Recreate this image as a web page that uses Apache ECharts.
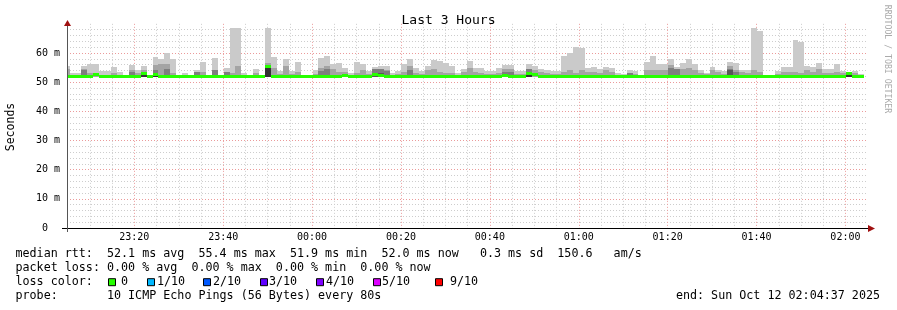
<!DOCTYPE html>
<html><head><meta charset="utf-8">
<script src="https://cdn.jsdelivr.net/npm/echarts@6/dist/echarts.min.js"></script>
<style>html,body{margin:0;padding:0;background:#fff}#c{width:897px;height:310px}</style>
</head><body><div id="c"></div>
<script>
// ---------- DATA (x values are minutes after 23:00 on Oct 11) ----------
const viewStart = 4.856;        // 23:04:51
const viewEnd = 184.856;        // 3 hours later
const firstColumnStart = 4.1;   // start of first rrd step shown
const stepMinutes = 80 / 60;    // 80 s step

const labelMinutes = [20, 40, 60, 80, 100, 120, 140, 160, 180];
const labelText = ['23:20', '23:40', '00:00', '00:20', '00:40', '01:00', '01:20', '01:40', '02:00'];
const minorMinutes = [5, 10, 15, 25, 30, 35, 45, 50, 55, 65, 70, 75, 85, 90, 95, 105, 110, 115, 125, 130, 135, 145, 150, 155, 165, 170, 175];
const yTicks = [0, 10, 20, 30, 40, 50, 60];
const yTickLabels = ['0  ', '10 m', '20 m', '30 m', '40 m', '50 m', '60 m'];

// highest ping per step (ms)
const ping10 = [55.6,53.2,53.2,55.6,56.2,56.2,53.8,53.8,55.2,53.5,
52.5,55.8,54.0,55.5,52.3,58.6,57.8,59.9,57.8,52.4,
53.2,52.4,54.2,56.9,52.4,58.2,52.4,54.8,68.6,68.6,
53.2,52.4,54.4,52.4,68.6,58.6,53.7,57.9,53.7,56.9,
52.4,52.4,54.2,58.4,59.0,56.2,56.6,54.8,53.2,56.9,
56.2,53.9,55.3,55.5,55.5,53.0,53.9,56.2,57.8,54.8,
53.7,55.6,57.6,57.3,56.6,55.6,53.0,54.6,57.3,54.9,
54.9,53.7,53.9,54.8,56.0,56.0,53.7,53.8,56.2,55.5,
54.6,54.2,53.7,53.9,58.9,59.9,61.9,61.7,54.8,55.3,
54.6,55.1,54.8,53.3,52.8,54.2,53.7,52.6,56.9,59.0,
56.1,56.2,57.9,55.2,56.7,57.9,56.1,54.2,53.3,55.3,
54.2,53.7,56.8,56.5,54.2,54.2,68.6,67.7,52.5,52.5,
53.8,55.2,55.2,64.5,63.7,55.5,55.3,56.5,54.6,54.6,
56.1,53.8,53.3,53.8,52.8];
// 2nd highest ping per step (ms)
const ping9 = [54.4,52.6,52.6,54.4,53.0,53.0,52.6,52.6,53.2,52.6,
52.3,54.0,53.2,54.2,52.2,55.8,56.2,56.3,53.0,52.3,
52.6,52.3,53.5,53.6,52.3,54.0,52.3,53.6,53.2,55.7,
52.6,52.3,53.0,52.3,56.5,55.0,52.8,55.7,52.8,53.5,
52.3,52.3,52.8,55.0,55.7,54.5,53.5,53.5,52.6,53.2,
54.0,52.8,54.4,54.6,54.2,52.5,52.8,53.5,55.5,53.3,
52.8,54.0,54.5,53.5,53.2,53.0,52.5,53.5,54.9,53.5,
53.3,52.8,52.8,53.2,54.5,54.5,52.8,52.8,54.6,54.0,
53.5,53.0,52.8,52.8,53.5,54.2,53.0,54.0,53.5,53.5,
53.0,54.0,53.5,52.6,52.4,53.3,52.8,52.3,54.0,54.0,
54.0,54.0,56.0,54.5,54.5,55.0,54.0,53.3,52.8,54.0,
53.5,52.8,55.5,54.2,53.5,53.0,54.0,53.5,52.3,52.3,
52.8,53.5,53.5,53.5,53.3,54.0,53.5,54.5,53.3,53.3,
53.5,53.0,52.8,53.0,52.5];
// inner pings that rise visibly above the median (column index -> ms)
const ping8 = {3:54.0, 11:53.5, 13:53.5, 15:54.2, 17:54.5, 22:53.5, 25:54.0, 27:53.5, 34:56.0, 43:53.8, 44:54.4,
  52:54.4, 53:54.4, 54:53.8, 58:54.0, 74:53.5, 75:53.5, 78:54.6, 95:53.3, 102:55.0, 103:54.5, 112:54.5, 113:53.5};
const ping7 = {13:53.0, 15:53.2, 34:55.8, 52:53.3, 53:53.3, 78:53.5, 112:54.0, 132:53.0};
const ping6 = {13:52.9, 15:52.6, 34:55.3, 53:52.8, 78:53.2, 132:52.8};
// lowest ping per step (ms)
const ping1 = [51.7,51.7,51.7,51.7,51.7,51.7,51.7,51.7,51.7,51.7,
51.7,51.7,51.7,51.7,51.7,51.7,51.7,51.7,51.7,51.7,
51.7,51.7,51.7,51.7,51.7,51.7,51.7,51.7,51.7,51.7,
51.7,51.7,51.7,51.7,51.8,51.7,51.7,51.7,51.7,51.7,
51.7,51.7,51.7,51.7,51.7,51.7,51.7,51.7,51.7,51.7,
51.7,51.7,51.7,51.7,51.7,51.7,51.7,51.7,51.7,51.7,
51.7,51.7,51.7,51.7,51.7,51.7,51.7,51.7,51.7,51.7,
51.7,51.7,51.7,51.7,51.7,51.7,51.7,51.7,51.7,51.7,
51.7,51.7,51.7,51.7,51.7,51.7,51.7,51.7,51.7,51.7,
51.7,51.7,51.7,51.7,51.7,51.7,51.7,51.7,51.7,51.7,
51.7,51.7,51.7,51.7,51.7,51.7,51.7,51.7,51.7,51.7,
51.7,51.7,51.7,51.7,51.7,51.7,51.7,51.7,51.7,51.7,
51.7,51.7,51.7,51.7,51.7,51.7,51.7,51.7,51.7,51.7,
51.7,51.7,51.7,51.7,51.7];
// median rtt per step (ms)
const median = [52.1,51.9,51.9,52.1,52.1,52.5,52.1,51.9,52.1,52.1,
52.1,52.1,52.1,52.9,51.9,52.6,52.1,52.1,51.9,52.1,
52.1,52.1,52.1,52.1,51.9,52.1,51.9,52.1,52.1,52.1,
52.1,51.9,52.1,52.1,55.4,52.1,52.1,51.9,52.1,51.9,
51.9,52.1,52.1,52.1,52.1,52.1,51.9,52.3,52.1,52.1,
51.9,52.1,52.7,52.4,52.1,52.1,52.1,51.9,51.9,51.9,
52.1,52.1,52.1,52.1,52.1,52.1,52.1,52.1,52.1,52.1,
52.1,52.1,52.1,52.1,52.3,52.1,51.9,52.1,53.0,52.5,
52.1,52.1,51.9,51.9,51.9,52.1,52.1,52.1,52.1,51.9,
51.9,52.1,52.1,52.1,51.9,52.1,52.1,52.1,52.1,52.1,
52.1,52.1,52.1,52.1,51.9,52.1,52.1,52.1,51.9,52.1,
52.1,52.1,52.1,51.9,51.9,51.9,52.1,51.9,51.9,51.9,
52.1,52.1,52.1,52.1,52.1,52.1,52.1,52.1,52.1,51.9,
51.9,51.9,52.8,52.1,52.0];

const lossLabels = ['0', '1/10', '2/10', '3/10', '4/10', '5/10', '9/10'];
const lossColors = ['#26ff00', '#00b8ff', '#0059ff', '#5e00ff', '#7e00ff', '#dd00ff', '#ff0000'];
const legendLines = [
  'median rtt:  52.1 ms avg  55.4 ms max  51.9 ms min  52.0 ms now   0.3 ms sd  150.6   am/s',
  'packet loss: 0.00 % avg  0.00 % max  0.00 % min  0.00 % now',
  'loss color:',
  'probe:       10 ICMP Echo Pings (56 Bytes) every 80s'
];
const endText = 'end: Sun Oct 12 02:04:37 2025';

// ---------- LAYOUT ----------
const MONO = "'DejaVu Sans Mono', monospace";
const G = {left: 67, top: 23.83, width: 800, height: 204.17};
const lossBoxX = [108, 147, 203, 260, 316, 373, 435];
const lossTextX = [121, 157, 213, 269, 326, 382, 450];
const legendY = [254.3, 268.3, 282.2, 296.2];

const smokeColors = ['#cacaca', '#a4a4a4', '#7e7e7e', '#585858', '#323232'];
const columns = ping10.map((v, k) => [firstColumnStart + k * stepMinutes, firstColumnStart + (k + 1) * stepMinutes, v]);

function renderItem(params, api) {
  const k = params.dataIndex;
  const cs = params.coordSys;
  const x0 = Math.round(api.coord([api.value(0), 0])[0]);
  const x1 = Math.round(api.coord([api.value(1), 0])[0]);
  const yOf = v => api.coord([api.value(0), v])[1];
  const yLow = yOf(ping1[k]);
  const tops = [ping10[k], ping9[k], ping8[k], ping7[k], ping6[k]];
  const children = [];
  tops.forEach((v, j) => {
    if (v == null) return;
    const yt = yOf(v);
    const r = echarts.graphic.clipRectByRect({x: x0, y: Math.round(yt), width: x1 - x0, height: Math.round(yLow) - Math.round(yt)}, cs);
    if (r) children.push({type: 'rect', shape: r, style: {fill: smokeColors[j]}});
  });
  const ym = yOf(median[k]);
  const rm = echarts.graphic.clipRectByRect({x: x0, y: Math.round(ym - 1.5), width: x1 - x0, height: 3}, cs);
  if (rm) children.push({type: 'rect', shape: rm, style: {fill: lossColors[0]}});
  return {type: 'group', children};
}

const graphics = [];
// axis extensions and arrows
graphics.push({type: 'line', shape: {x1: 62, y1: 228.5, x2: 868, y2: 228.5}, style: {stroke: '#000', lineWidth: 1}, z: 10});
graphics.push({type: 'line', shape: {x1: 67.5, y1: 232, x2: 67.5, y2: 23}, style: {stroke: '#555', lineWidth: 1}, z: 10});
graphics.push({type: 'polygon', shape: {points: [[868, 225], [875, 228.5], [868, 232]]}, style: {fill: '#a01010'}, z: 10});
graphics.push({type: 'polygon', shape: {points: [[64, 26], [67.5, 20], [71, 26]]}, style: {fill: '#a01010'}, z: 10});
// axis title
graphics.push({type: 'text', x: 11, y: 127, rotation: Math.PI / 2,
  style: {text: 'Seconds', font: '11.5px ' + MONO, fill: '#000', align: 'center', verticalAlign: 'middle'}});
// watermark
graphics.push({type: 'text', x: 887.5, y: 59, rotation: -Math.PI / 2,
  style: {text: 'RRDTOOL / TOBI OETIKER', font: '8.2px ' + MONO, fill: '#aaaaaa', align: 'center', verticalAlign: 'middle'}});
// legend lines
legendLines.forEach((t, i) => graphics.push({type: 'text', x: 15.5, y: legendY[i],
  style: {text: t, font: '11.7px ' + MONO, fill: '#000', align: 'left', verticalAlign: 'middle'}}));
lossLabels.forEach((t, i) => {
  graphics.push({type: 'rect', shape: {x: lossBoxX[i] + 0.5, y: legendY[2] - 3.5, width: 7, height: 7},
    style: {fill: lossColors[i], stroke: '#000', lineWidth: 1}});
  graphics.push({type: 'text', x: lossTextX[i], y: legendY[2],
    style: {text: t, font: '11.7px ' + MONO, fill: '#000', align: 'left', verticalAlign: 'middle'}});
});
graphics.push({type: 'text', x: 880, y: legendY[3],
  style: {text: endText, font: '11.7px ' + MONO, fill: '#000', align: 'right', verticalAlign: 'middle'}});

const option = {
  animation: false,
  backgroundColor: '#ffffff',
  title: {text: 'Last 3 Hours', left: 'center', top: 9,
    textStyle: {fontFamily: MONO, fontSize: 13, fontWeight: 'normal', color: '#000'}},
  grid: G,
  xAxis: [
    {type: 'value', min: viewStart, max: viewEnd, position: 'bottom',
      axisLine: {show: false},
      axisTick: {show: false, customValues: labelMinutes},
      axisLabel: {customValues: labelMinutes, formatter: v => labelText[labelMinutes.indexOf(Math.round(v))],
        fontFamily: MONO, fontSize: 10, color: '#000', margin: 4},
      splitLine: {show: true, lineStyle: {color: '#eb9a9a', type: [1, 2], width: 1}}},
    {type: 'value', min: viewStart, max: viewEnd, position: 'top',
      axisLine: {show: false}, axisLabel: {show: false},
      axisTick: {show: false, customValues: minorMinutes},
      splitLine: {show: true, lineStyle: {color: '#cdcdcd', type: [1, 2], width: 1}}}
  ],
  yAxis: {type: 'value', min: 0, max: 70, interval: 10,
    axisLine: {show: false, onZero: false}, axisTick: {show: false},
    axisLabel: {formatter: v => { const i = yTicks.indexOf(v); return i < 0 ? '' : yTickLabels[i]; },
      fontFamily: MONO, fontSize: 10, color: '#000', margin: 7, showMaxLabel: false},
    splitLine: {show: true, showMinLine: false, showMaxLine: false, lineStyle: {color: '#eb9a9a', type: [1, 2], width: 1}},
    minorTick: {show: false, splitNumber: 5},
    minorSplitLine: {show: true, lineStyle: {color: '#cdcdcd', type: [1, 2], width: 1}}},
  series: [{type: 'custom', xAxisIndex: 0, yAxisIndex: 0, renderItem, data: columns,
    encode: {x: [0, 1], y: 2}, z: 2}],
  graphic: graphics
};
const chart = echarts.init(document.getElementById('c'), null, {renderer: 'canvas', width: 897, height: 310});
chart.setOption(option);
</script></body></html>
